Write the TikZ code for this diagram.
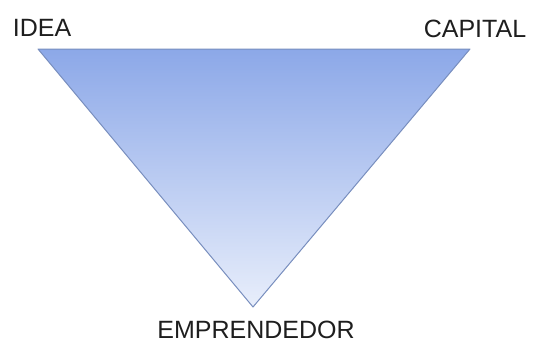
\documentclass[tikz,border=0pt]{standalone}
\usepackage{fontspec}
\setmainfont{Liberation Sans}
\usepackage{xcolor}
\definecolor{ideablue}{RGB}{140, 168, 232}
\definecolor{ideapale}{RGB}{232, 238, 251}
\definecolor{ideaedge}{RGB}{120, 142, 190}
\definecolor{ideatext}{RGB}{30, 30, 30}
\usetikzlibrary{
    positioning,
    calc
}

\begin{document}
\begin{tikzpicture}[
    x=1pt, y=-1pt,
    label/.style={text=ideatext, font=\fontsize{25}{25}\selectfont, inner sep=0pt},
    tri/.style={draw=ideaedge, line width=1pt, line join=round, top color=ideablue, bottom color=ideapale}
]
    \useasboundingbox (0,0) rectangle (535,343);
    \coordinate (ideacorner) at (38,49);
    \coordinate (capcorner) at (470,49);
    \coordinate (empcorner) at (253,307);

    \draw[tri] (ideacorner) -- (capcorner) -- (empcorner) -- cycle;

    \node[label] (idea) at (42,28) {IDEA};
    \node[label] (capital) at (475,29) {CAPITAL};
    \node[label] (emprendedor) at (256,330) {EMPRENDEDOR};
\end{tikzpicture}
\end{document}
